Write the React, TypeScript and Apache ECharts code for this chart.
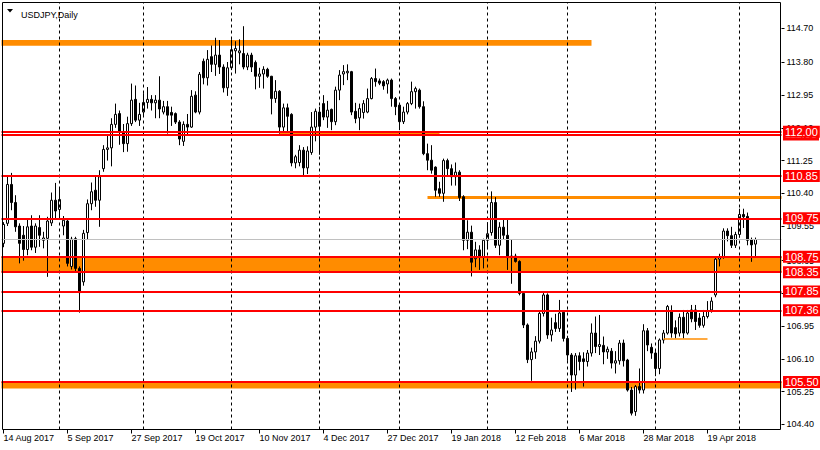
import React, { useEffect, useRef } from 'react';
import * as echarts from 'echarts';

const FONT = "'Liberation Sans', Arial, Helvetica, sans-serif";
const MON = ['Jan', 'Feb', 'Mar', 'Apr', 'May', 'Jun', 'Jul', 'Aug', 'Sep', 'Oct', 'Nov', 'Dec'];

// Daily USDJPY candles, rows are [open, high, low, close]
const aug2017 = [
  [109.10, 109.65, 109.00, 109.59], [109.62, 110.85, 109.55, 110.63], [110.63, 110.93, 109.96, 110.16],
  [110.16, 110.35, 109.40, 109.53], [109.55, 109.62, 108.58, 109.10], [109.31, 109.55, 108.65, 108.94],
  [108.94, 109.74, 108.79, 109.53], [109.55, 109.83, 108.92, 109.00], [109.00, 109.62, 108.85, 109.55],
  [109.51, 109.83, 109.01, 109.31], [109.18, 109.40, 108.97, 109.24], [109.23, 109.79, 108.23, 109.68],
  [109.63, 110.42, 109.55, 110.22], [110.22, 110.67, 109.75, 109.94],
];
const sep2017 = [
  [109.98, 110.52, 109.72, 110.24], [109.55, 109.81, 109.31, 109.70], [109.68, 109.75, 108.50, 108.58],
  [108.50, 109.27, 108.42, 109.21], [109.22, 109.27, 108.35, 108.45], [108.45, 108.50, 107.30, 107.82],
  [108.10, 109.45, 108.00, 109.36], [109.38, 110.24, 109.21, 110.13], [110.13, 110.68, 109.96, 110.44],
  [110.48, 110.83, 110.05, 110.22], [110.22, 111.00, 109.53, 110.83], [111.04, 111.65, 110.96, 111.54],
  [111.54, 111.89, 111.25, 111.58], [111.58, 112.35, 111.10, 112.19], [112.19, 112.73, 112.10, 112.45],
  [112.47, 112.55, 111.66, 111.99], [111.99, 112.20, 111.47, 111.69], [111.69, 112.39, 111.48, 112.21],
  [112.21, 113.25, 112.15, 112.82], [112.84, 113.20, 112.25, 112.30], [112.30, 112.75, 112.15, 112.45],
];
const oct2017 = [
  [112.51, 113.00, 112.40, 112.76], [112.76, 113.16, 112.60, 112.84], [112.84, 112.95, 112.55, 112.75],
  [112.75, 112.95, 112.35, 112.82], [112.82, 113.44, 112.35, 112.59], [112.51, 112.80, 112.45, 112.65],
  [112.65, 112.80, 111.95, 112.43], [112.50, 112.65, 112.15, 112.43], [112.47, 112.50, 112.20, 112.25],
  [112.25, 112.30, 111.65, 111.81], [111.75, 112.27, 111.63, 112.19], [112.19, 112.46, 111.90, 112.12],
  [112.12, 113.08, 112.10, 112.92], [112.95, 113.05, 112.48, 112.51], [112.51, 113.55, 112.45, 113.49],
  [113.83, 113.90, 113.23, 113.40], [113.40, 114.12, 113.20, 113.88], [113.95, 114.24, 113.55, 113.75],
  [113.75, 114.44, 113.45, 113.99], [113.99, 114.38, 113.50, 113.68], [113.68, 113.75, 113.02, 113.14],
  [113.14, 113.81, 112.93, 113.66],
];
const nov2017 = [
  [113.66, 114.40, 113.60, 114.13], [114.10, 114.35, 113.51, 114.16], [114.05, 114.40, 113.75, 114.10],
  [114.03, 114.74, 113.62, 113.68], [113.68, 114.05, 113.60, 113.99], [113.99, 114.05, 113.55, 113.68],
  [113.80, 113.85, 113.10, 113.44], [113.44, 113.66, 113.14, 113.50], [113.50, 113.70, 113.12, 113.62],
  [113.62, 113.66, 113.40, 113.44], [113.44, 113.45, 112.45, 112.86], [112.86, 113.34, 112.75, 113.05],
  [113.05, 113.08, 111.95, 112.12], [112.12, 112.73, 111.98, 112.62], [112.62, 112.73, 111.98, 112.40],
  [112.45, 112.48, 111.10, 111.19], [111.19, 111.40, 111.05, 111.35], [111.20, 111.65, 111.10, 111.52],
  [111.52, 111.60, 110.83, 111.06], [111.06, 111.62, 110.90, 111.50], [111.46, 112.51, 111.40, 112.12],
  [112.12, 112.60, 111.75, 112.53],
];
const dec2017 = [
  [112.51, 112.65, 111.40, 112.14], [112.73, 112.95, 112.30, 112.38], [112.38, 112.80, 112.10, 112.56],
  [112.58, 112.60, 112.04, 112.26], [112.26, 113.17, 112.17, 113.08], [113.08, 113.60, 112.82, 113.47],
  [113.50, 113.73, 113.21, 113.56], [113.53, 113.75, 113.34, 113.57], [113.56, 113.58, 112.43, 112.51],
  [112.53, 112.75, 112.22, 112.34], [112.36, 112.73, 112.04, 112.60], [112.50, 112.82, 112.34, 112.73],
  [112.51, 113.12, 112.48, 112.86], [112.86, 113.42, 112.84, 113.38], [113.38, 113.64, 113.17, 113.30],
  [113.32, 113.38, 113.21, 113.26], [113.30, 113.34, 113.09, 113.19], [113.24, 113.38, 112.99, 113.34],
  [113.34, 113.38, 112.65, 112.86], [112.86, 112.90, 112.43, 112.65],
];
const jan2018 = [
  [112.69, 112.73, 112.04, 112.26], [112.26, 112.65, 112.20, 112.51], [112.51, 112.77, 112.45, 112.73],
  [112.73, 113.30, 112.69, 113.04], [113.04, 113.17, 112.60, 113.12], [113.08, 113.12, 112.60, 112.65],
  [112.65, 112.79, 111.39, 111.43], [111.43, 111.69, 111.00, 111.26], [111.26, 111.65, 110.91, 111.00],
  [111.08, 111.10, 110.31, 110.48], [110.52, 110.70, 110.31, 110.40], [110.40, 111.30, 110.18, 111.25],
  [111.25, 111.30, 110.85, 111.04], [111.04, 111.15, 110.60, 110.83], [110.83, 111.20, 110.60, 110.95],
  [110.95, 111.00, 110.20, 110.29], [110.31, 110.35, 108.92, 109.18], [109.18, 109.70, 108.95, 109.39],
  [109.39, 109.56, 108.24, 108.61], [108.70, 109.14, 108.48, 108.93], [108.93, 109.05, 108.41, 108.75],
  [108.75, 109.22, 108.45, 109.18],
];
const feb2018 = [
  [109.18, 109.65, 108.95, 109.35], [109.38, 110.45, 109.30, 110.16], [110.16, 110.30, 108.98, 109.05],
  [109.05, 109.65, 108.79, 109.52], [109.52, 109.74, 109.20, 109.31], [109.31, 109.74, 108.41, 108.73],
  [108.73, 109.20, 108.05, 108.77], [108.77, 108.83, 108.60, 108.63], [108.63, 108.66, 107.75, 107.80],
  [107.80, 107.85, 106.90, 106.98], [106.98, 107.02, 105.99, 106.08], [106.08, 106.39, 105.53, 106.28],
  [106.28, 106.69, 106.10, 106.56], [106.56, 107.36, 106.50, 107.28], [107.28, 107.85, 107.20, 107.76],
  [107.76, 107.80, 106.62, 106.72], [106.72, 107.17, 106.55, 106.85], [107.04, 107.27, 106.80, 106.89],
  [106.89, 107.63, 106.80, 107.29], [107.31, 107.36, 106.55, 106.63],
];
const mar2018 = [
  [106.63, 106.70, 106.05, 106.20], [106.20, 106.25, 105.24, 105.68], [105.68, 106.25, 105.30, 106.18],
  [106.18, 106.27, 105.80, 106.03], [106.10, 106.27, 105.38, 106.03], [106.03, 106.33, 105.90, 106.25],
  [106.25, 107.02, 106.16, 106.77], [106.77, 107.20, 106.25, 106.42], [106.42, 107.24, 106.20, 106.47],
  [106.45, 106.68, 105.96, 106.28], [106.28, 106.42, 106.10, 106.35], [106.30, 106.38, 105.85, 105.99],
  [105.99, 106.30, 105.72, 106.05], [106.05, 106.59, 105.95, 106.51], [106.51, 106.60, 105.90, 106.05],
  [106.07, 106.10, 105.25, 105.29], [105.29, 105.37, 104.63, 104.69], [104.73, 105.42, 104.62, 105.38],
  [105.38, 105.85, 105.20, 105.29], [105.29, 107.00, 105.20, 106.83], [106.83, 106.90, 106.30, 106.46],
  [106.40, 106.50, 106.10, 106.25],
];
const apr2018 = [
  [106.25, 106.30, 105.65, 105.85], [105.85, 106.63, 105.70, 106.59], [106.59, 106.85, 106.50, 106.77],
  [106.77, 107.50, 106.73, 107.46], [107.35, 107.49, 106.65, 106.77], [106.91, 107.10, 106.63, 106.75],
  [106.77, 107.28, 106.68, 107.18], [107.18, 107.37, 106.63, 106.77], [106.77, 107.37, 106.73, 107.29],
  [107.37, 107.50, 107.05, 107.14], [107.37, 107.50, 106.85, 107.07], [107.16, 107.29, 106.91, 106.97],
  [106.97, 107.37, 106.91, 107.20], [107.20, 107.60, 107.15, 107.35], [107.37, 107.70, 107.30, 107.60],
  [107.76, 108.75, 107.70, 108.69], [108.69, 108.83, 108.50, 108.75], [108.75, 109.49, 108.70, 109.42],
  [109.42, 109.49, 109.15, 109.30], [109.30, 109.53, 108.98, 109.05], [109.05, 109.40, 108.98, 109.33],
];
const may2018 = [
  [109.33, 110.00, 109.25, 109.85], [109.85, 110.00, 109.50, 109.79], [109.80, 109.90, 109.05, 109.18],
  [109.20, 109.25, 108.62, 109.06], [109.08, 109.25, 108.75, 109.20],
];
const candles = [
  ...aug2017, ...sep2017, ...oct2017, ...nov2017, ...dec2017,
  ...jan2018, ...feb2018, ...mar2018, ...apr2018, ...may2018,
];

// calendar: first bar 14 Aug 2017, weekdays only, no bar on these days
const FIRST_DAY = Date.UTC(2017, 7, 14);
const NO_BAR_DAYS = ['2017-12-25', '2018-01-01'];
const EMPTY_SLOTS_RIGHT = 6;
const LABEL_EVERY = 16;

// price axis tick labels
const yTickValues = [104.40, 105.25, 106.10, 106.95, 107.80, 108.65, 109.55, 110.40, 111.25, 112.10, 112.95, 113.80, 114.70];
const yMin = 104.265;
const yMax = 115.356;

// horizontal levels
const redLevels = [111.93, 112.00, 110.85, 109.75, 108.75, 108.35, 107.85, 107.36, 105.50];
const bidPrice = 109.20;
// orange zones: [fromIndex | null, toIndex | null, low, high]
const orangeZones: [number | null, number | null, number, number][] = [
  [null, 147, 114.23, 114.38],
  [69, 109, 111.935, 112.0],
  [106, null, 110.25, 110.33],
  [null, null, 108.35, 108.75],
  [null, null, 105.33, 105.50],
];
const supportSegment = { from: 165, to: 176, value: 106.63 };

function buildDates(count: number) {
  const out: { label: string; month: number }[] = [];
  let t = FIRST_DAY;
  while (out.length < count) {
    const d = new Date(t);
    const wd = d.getUTCDay();
    const iso = d.toISOString().slice(0, 10);
    if (wd !== 0 && wd !== 6 && !NO_BAR_DAYS.includes(iso)) {
      out.push({
        label: `${d.getUTCDate()} ${MON[d.getUTCMonth()]} ${d.getUTCFullYear()}`,
        month: d.getUTCMonth(),
      });
    }
    t += 86400000;
  }
  return out;
}

export default function App() {
  const ref = useRef<HTMLDivElement>(null);
  useEffect(() => {
    if (!ref.current) return;
    const chart = echarts.init(ref.current, undefined, { renderer: 'svg' });
    const n = candles.length;
    const days = buildDates(n + EMPTY_SLOTS_RIGHT);
    const categories = days.map((d) => d.label);
    const separators: number[] = [];
    for (let i = 1; i < n; i++) if (days[i].month !== days[i - 1].month) separators.push(i);
    const data = candles.map(([o, h, l, c]) => [o, c, l, h]);
    const showLabel = (i: number) => i % LABEL_EVERY === 0 && i < n;

    const areaData = orangeZones.map(([from, to, low, high]) => {
      const a: any = { yAxis: low };
      const b: any = { yAxis: high };
      if (from !== null) a.xAxis = from;
      if (to !== null) b.xAxis = to;
      return [a, b];
    });

    const tagLabel = (bg: string) => ({
      show: true,
      position: 'end',
      distance: 1.5,
      formatter: (p: any) => Number(p.value).toFixed(2),
      backgroundColor: bg,
      color: '#ffffff',
      fontFamily: FONT,
      fontSize: 11,
      lineHeight: 12,
      padding: [0, 2, 0, 2],
    });

    chart.setOption({
      animation: false,
      backgroundColor: '#ffffff',
      title: {
        text: 'USDJPY,Daily',
        left: 16,
        top: 5,
        textStyle: { fontFamily: FONT, fontSize: 9, fontWeight: 'normal', color: '#000000' },
      },
      grid: { left: 1.5, top: 2.5, width: 780, height: 427, show: false },
      xAxis: {
        type: 'category',
        data: categories,
        boundaryGap: true,
        axisLine: { show: false },
        axisTick: { show: true, length: 4, alignWithLabel: true, interval: (i: number) => showLabel(i), lineStyle: { color: '#000' } },
        axisLabel: {
          interval: (i: number) => showLabel(i),
          align: 'left',
          margin: 4,
          color: '#000000',
          fontFamily: FONT,
          fontSize: 9,
        },
        splitLine: { show: false },
      },
      yAxis: {
        type: 'value',
        position: 'right',
        min: yMin,
        max: yMax,
        scale: true,
        axisLine: { show: false },
        axisTick: { show: true, length: 3, customValues: yTickValues, lineStyle: { color: '#000' } },
        axisLabel: {
          customValues: yTickValues,
          formatter: (v: number) => v.toFixed(2),
          margin: 5,
          color: '#000000',
          fontFamily: FONT,
          fontSize: 9,
        },
        splitLine: { show: false },
      },
      graphic: [
        {
          type: 'rect',
          z: 100,
          silent: true,
          shape: { x: 2.5, y: 2.5, width: 778, height: 427 },
          style: { fill: 'none', stroke: '#000000', lineWidth: 1 },
        },
        {
          type: 'polygon',
          z: 100,
          silent: true,
          shape: { points: [[7, 9], [13, 9], [10, 12.5]] },
          style: { fill: '#000000' },
        },
      ],
      series: [
        {
          type: 'line',
          data: [],
          z: 1,
          clip: false,
          silent: true,
          markArea: {
            silent: true,
            itemStyle: { color: '#ff8c00', opacity: 1, borderWidth: 0 },
            label: { show: false },
            data: areaData,
          },
          markLine: {
            silent: true,
            symbol: 'none',
            label: { show: false },
            data: [
              ...separators.map((i) => ({
                xAxis: i,
                lineStyle: { color: '#000000', width: 1, type: [3, 3] },
              })),
              {
                yAxis: bidPrice,
                lineStyle: { color: '#c0c0c0', width: 1, type: 'solid' },
              },
              [
                { coord: [supportSegment.from, supportSegment.value] },
                { coord: [supportSegment.to, supportSegment.value], lineStyle: { color: '#ff8c00', width: 1.5, type: 'solid' } },
              ],
            ],
          },
        },
        {
          type: 'candlestick',
          data,
          z: 2,
          barWidth: 2,
          itemStyle: {
            color: '#ffffff',
            color0: '#000000',
            borderColor: '#000000',
            borderColor0: '#000000',
            borderWidth: 1,
          },
        },
        {
          type: 'line',
          data: [],
          z: 3,
          clip: false,
          silent: true,
          markLine: {
            silent: true,
            symbol: 'none',
            data: [
              ...redLevels.map((v) => ({
                yAxis: v,
                lineStyle: { color: '#ff0000', width: 2, type: 'solid' },
                label: tagLabel('#ff0000'),
              })),
              {
                yAxis: bidPrice,
                lineStyle: { color: '#c0c0c0', width: 0, opacity: 0 },
                label: tagLabel('#000000'),
              },
            ],
          },
        },
      ],
    });
    return () => chart.dispose();
  }, []);
  return <div ref={ref} style={{ position: 'absolute', left: 0, top: 0, width: 820, height: 450 }} />;
}
